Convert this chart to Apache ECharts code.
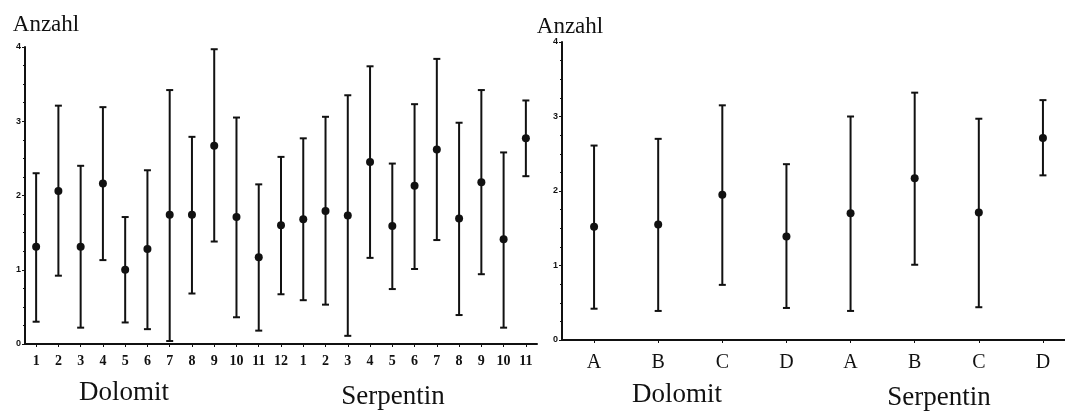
<!DOCTYPE html>
<html>
<head>
<meta charset="utf-8">
<script src="https://cdn.jsdelivr.net/npm/echarts@6/dist/echarts.min.js"></script>
<style>
  html, body { margin: 0; padding: 0; background: #fff; }
  #chart { width: 1065px; height: 414px; }
</style>
</head>
<body>
<div id="chart"></div>
<script>
// left panel: months, Dolomit 1-12 then Serpentin 1-11
const monthLabels = ['1','2','3','4','5','6','7','8','9','10','11','12',
  '1','2','3','4','5','6','7','8','9','10','11'];
const monthMean = [1.31, 2.06, 1.31, 2.16, 1.00, 1.28, 1.74, 1.74, 2.67, 1.71, 1.17, 1.60,
  1.68, 1.79, 1.73, 2.45, 1.59, 2.13, 2.62, 1.69, 2.18, 1.41, 2.77];
const monthHigh = [2.30, 3.21, 2.40, 3.19, 1.71, 2.34, 3.42, 2.79, 3.97, 3.05, 2.15, 2.52,
  2.77, 3.06, 3.35, 3.74, 2.43, 3.23, 3.84, 2.98, 3.42, 2.58, 3.28];
const monthLow = [0.30, 0.92, 0.22, 1.13, 0.29, 0.20, 0.04, 0.68, 1.38, 0.36, 0.18, 0.67,
  0.59, 0.53, 0.11, 1.16, 0.74, 1.01, 1.40, 0.39, 0.94, 0.22, 2.26];

// right panel: classes A-D per rock type
const classLabels = ['A','B','C','D','A','B','C','D'];
const classMean = [1.52, 1.55, 1.95, 1.39, 1.70, 2.17, 1.71, 2.71];
const classHigh = [2.61, 2.70, 3.15, 2.36, 3.00, 3.32, 2.97, 3.22];
const classLow = [0.42, 0.39, 0.74, 0.43, 0.39, 1.01, 0.44, 2.21];

const yTicks = [0, 1, 2, 3, 4];

const chart = echarts.init(document.getElementById('chart'));

const errorBars = (low, high, axisIdx) => ({
  type: 'custom',
  xAxisIndex: axisIdx,
  yAxisIndex: axisIdx,
  data: low.map((v, i) => [i, v, high[i]]),
  renderItem: (params, api) => {
    const lo = api.coord([api.value(0), api.value(1)]);
    const hi = api.coord([api.value(0), api.value(2)]);
    const cap = 3.5;
    const style = { stroke: '#111', lineWidth: 2 };
    return {
      type: 'group',
      children: [
        { type: 'line', shape: { x1: lo[0], y1: lo[1], x2: hi[0], y2: hi[1] }, style },
        { type: 'line', shape: { x1: hi[0] - cap, y1: hi[1], x2: hi[0] + cap, y2: hi[1] }, style },
        { type: 'line', shape: { x1: lo[0] - cap, y1: lo[1], x2: lo[0] + cap, y2: lo[1] }, style }
      ]
    };
  },
  silent: true,
  z: 2
});

const dots = (mean, axisIdx) => ({
  type: 'scatter',
  xAxisIndex: axisIdx,
  yAxisIndex: axisIdx,
  data: mean.map((v, i) => [i, v]),
  symbolSize: 8,
  itemStyle: { color: '#111', opacity: 1 },
  silent: true,
  z: 3
});

const yAxisCommon = {
  type: 'value',
  min: 0,
  max: 4,
  interval: 1,
  axisLine: { show: true, lineStyle: { color: '#111', width: 2 } },
  axisTick: { show: true, length: 3, lineStyle: { color: '#111', width: 1 } },
  minorTick: { show: true, splitNumber: 4, length: 2, lineStyle: { color: '#111', width: 1 } },
  splitLine: { show: false },
  axisLabel: {
    color: '#111', fontFamily: 'Liberation Sans', fontWeight: 'bold', fontSize: 9, margin: 4,
    formatter: v => yTicks.includes(v) ? String(v) : ''
  }
};

const xAxisCommon = {
  type: 'category',
  boundaryGap: true,
  axisLine: { show: true, onZero: false, lineStyle: { color: '#111', width: 2 } },
  axisTick: { show: true, alignWithLabel: true, length: 3, lineStyle: { color: '#111', width: 1 } },
  splitLine: { show: false }
};

const label = (text, x, y, size) => ({
  type: 'text', x, y,
  style: { text, font: size + 'px "Liberation Serif"', fill: '#111', textAlign: 'center', textVerticalAlign: 'middle' }
});

const option = {
  backgroundColor: '#fff',
  animation: false,
  grid: [
    { left: 25, right: 528, top: 47, bottom: 70, outerBoundsMode: 'none', containLabel: false },
    { left: 562, right: -10, top: 42, bottom: 74, outerBoundsMode: 'none', containLabel: false }
  ],
  xAxis: [
    Object.assign({}, xAxisCommon, {
      gridIndex: 0,
      data: monthLabels,
      axisLabel: { color: '#111', fontFamily: 'Liberation Serif', fontWeight: 'bold', fontSize: 14, margin: 10, interval: 0 }
    }),
    Object.assign({}, xAxisCommon, {
      gridIndex: 1,
      data: classLabels,
      axisLabel: { color: '#111', fontFamily: 'Liberation Serif', fontSize: 20, margin: 13, interval: 0 }
    })
  ],
  yAxis: [
    Object.assign({}, yAxisCommon, { gridIndex: 0 }),
    Object.assign({}, yAxisCommon, { gridIndex: 1 })
  ],
  graphic: [
    label('Anzahl', 46, 25, 23),
    label('Anzahl', 570, 27, 23),
    label('Dolomit', 124, 393, 27),
    label('Serpentin', 393, 397, 27),
    label('Dolomit', 677, 395, 27),
    label('Serpentin', 939, 398, 27)
  ],
  series: [
    errorBars(monthLow, monthHigh, 0),
    dots(monthMean, 0),
    errorBars(classLow, classHigh, 1),
    dots(classMean, 1)
  ]
};

chart.setOption(option);
</script>
</body>
</html>
